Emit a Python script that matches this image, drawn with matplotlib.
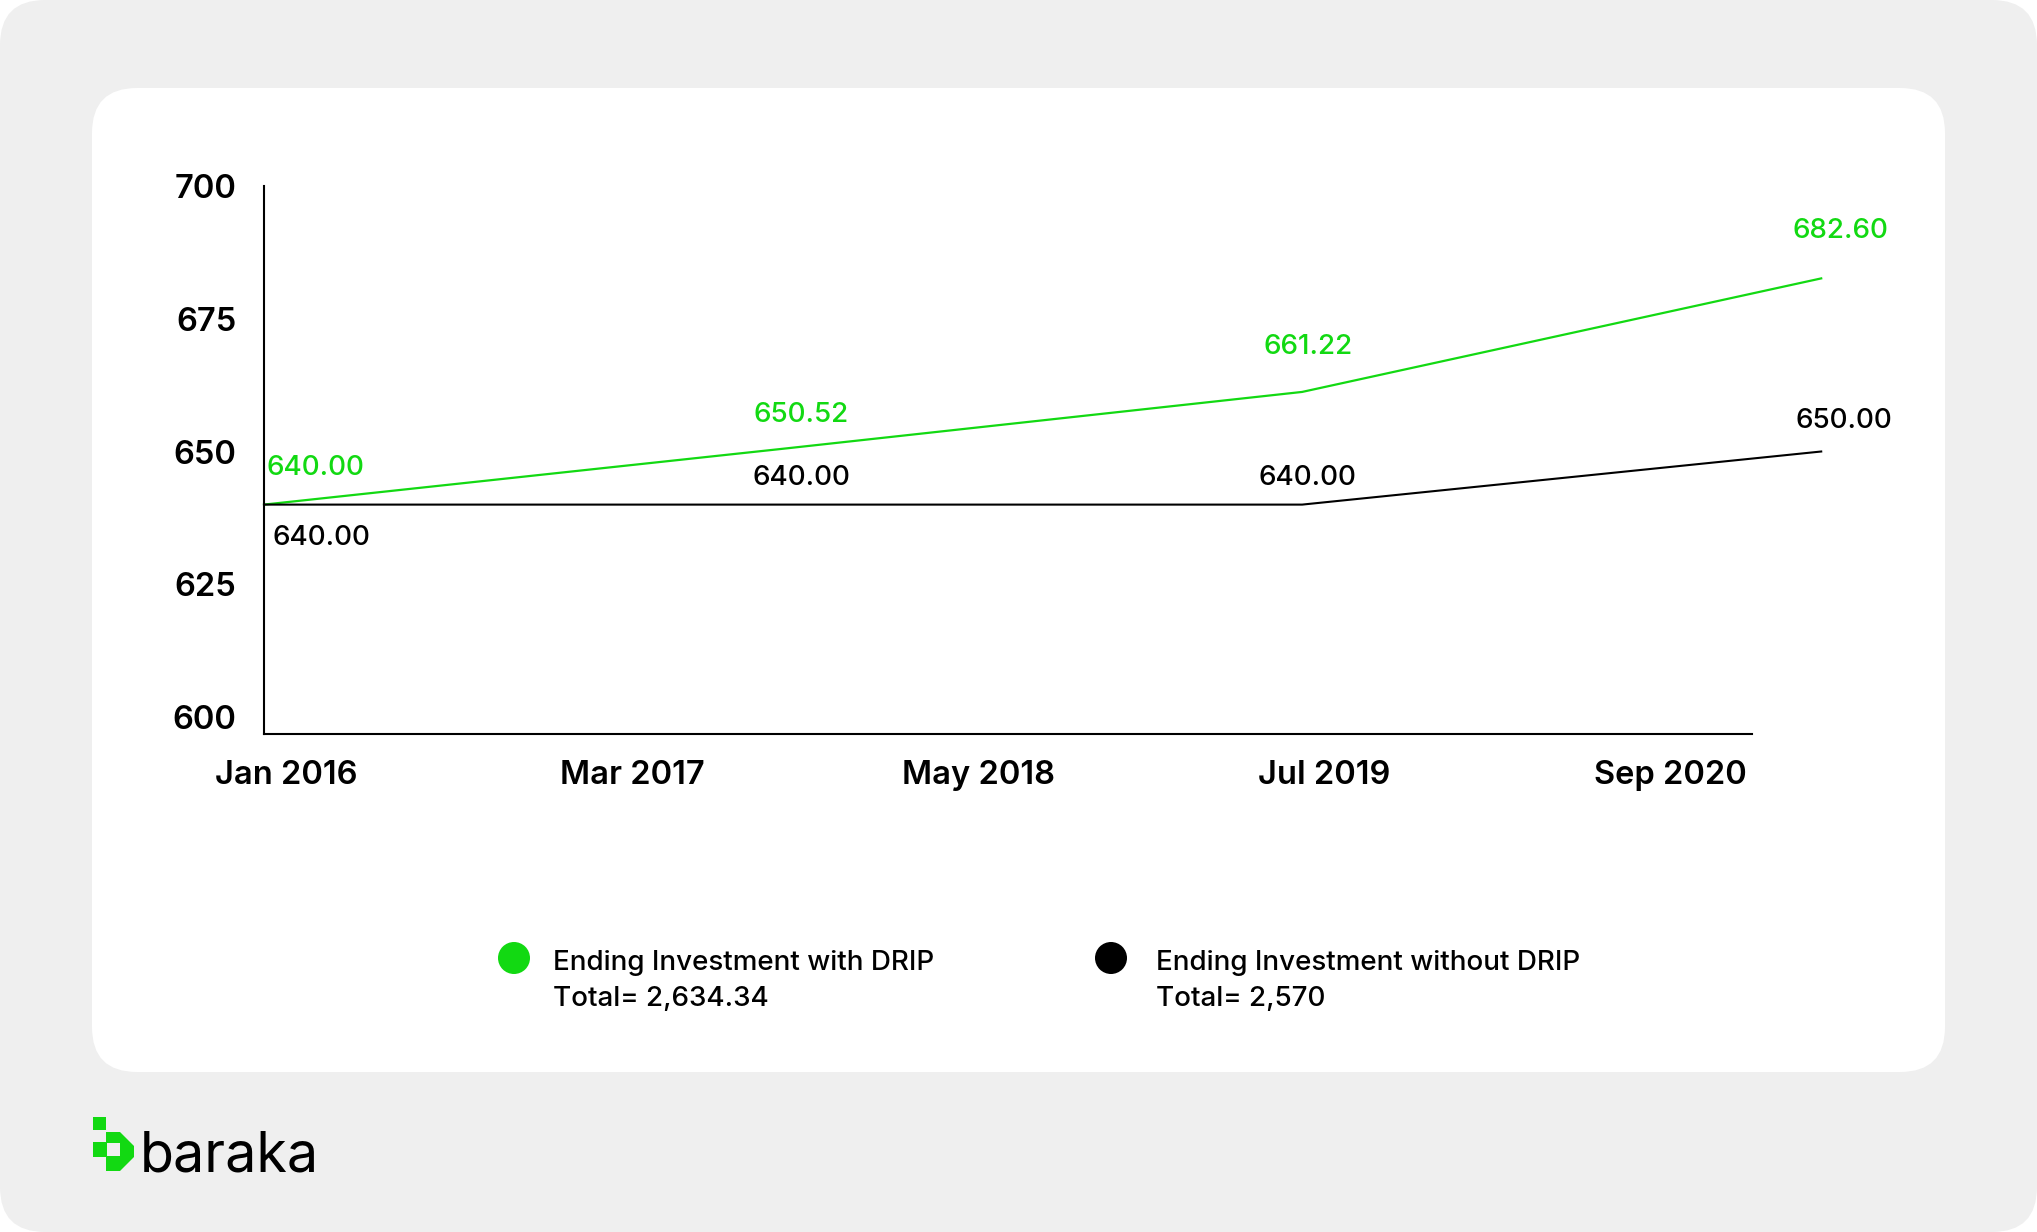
import matplotlib.pyplot as plt
import matplotlib.patches as mpatches
import matplotlib.transforms as mtransforms

plt.rcParams['font.family'] = ['Inter', 'DejaVu Sans']

GREEN = '#12d912'
BG_GRAY = '#efefef'

# data: months since Jan 2016
point_months = [0, 21, 42, 63]
with_drip = [640.00, 650.52, 661.22, 682.60]
without_drip = [640.00, 640.00, 640.00, 650.00]
tick_months = [0, 14, 28, 42, 56]
tick_labels = ['Jan 2016', 'Mar 2017', 'May 2018', 'Jul 2019', 'Sep 2020']
y_ticks = [600, 625, 650, 675, 700]
legend_names = ['Ending Investment with DRIP', 'Ending Investment without DRIP']
legend_totals = ['Total= 2,634.34', 'Total= 2,570']

# label offsets (points) relative to each data point
green_offsets = [(37, 26), (13, 24), (4, 32), (14, 34)]
black_offsets = [(41, -24), (13, 19), (4, 19), (16, 22)]

W, H = 2037, 1232
fig = plt.figure(figsize=(W / 100, H / 100), dpi=100)
fig.patch.set_facecolor('white')

# background layer in pixel coords
bg = fig.add_axes([0, 0, 1, 1], zorder=0)
bg.set_xlim(0, W)
bg.set_ylim(H, 0)
bg.axis('off')
bg.add_patch(mpatches.FancyBboxPatch((45, 45), W - 90, H - 90,
                                     boxstyle='round,pad=45', fc=BG_GRAY, ec='none'))
bg.add_patch(mpatches.FancyBboxPatch((137, 133), 1763, 894,
                                     boxstyle='round,pad=45', fc='white', ec='none'))

# legend
for cx, tx, col, name, total in [(514, 553, GREEN, legend_names[0], legend_totals[0]),
                                 (1111, 1156, 'black', legend_names[1], legend_totals[1])]:
    bg.add_patch(mpatches.Circle((cx, 958), 16, fc=col, ec='none'))
    bg.text(tx, 970, name, fontsize=20, fontweight='medium', va='baseline', ha='left')
    bg.text(tx, 1006, total, fontsize=20, fontweight='medium', va='baseline', ha='left')

# logo
bg.add_patch(mpatches.Rectangle((93, 1117), 13, 13, fc=GREEN, ec='none'))
logo = [(106, 1132), (120, 1132), (134, 1146), (134, 1157), (120, 1171), (106, 1171),
        (106, 1157), (93, 1157), (93, 1142), (106, 1142)]
bg.add_patch(mpatches.Polygon(logo, closed=True, fc=GREEN, ec='none'))
bg.add_patch(mpatches.Rectangle((106.5, 1143), 13, 13, fc=BG_GRAY, ec='none'))
bg.text(140, 1172, 'baraka', fontsize=40, va='baseline', ha='left', color='black')

# chart
ax = fig.add_axes([264 / W, 1 - 734 / H, (1752 - 264) / W, (734 - 186) / H], zorder=1)
ax.patch.set_alpha(0)
ax.plot(point_months, with_drip, color=GREEN, lw=1.6, clip_on=False)
ax.plot(point_months, without_drip, color='black', lw=1.5, clip_on=False)

for x, y, off in zip(point_months, with_drip, green_offsets):
    ax.annotate(f'{y:.2f}', (x, y), xytext=off, textcoords='offset points',
                ha='center', va='center', color=GREEN, fontsize=20, fontweight='medium',
                annotation_clip=False)
for x, y, off in zip(point_months, without_drip, black_offsets):
    ax.annotate(f'{y:.2f}', (x, y), xytext=off, textcoords='offset points',
                ha='center', va='center', color='black', fontsize=20, fontweight='medium',
                annotation_clip=False)

ax.set_xlim(0, 60.2)
ax.set_ylim(596.8, 700)
ax.set_xticks(tick_months)
ax.set_xticklabels(tick_labels, fontsize=23.5, fontweight='semibold')
ax.set_yticks(y_ticks)
ax.set_yticklabels([str(v) for v in y_ticks], fontsize=23.5, fontweight='semibold')
ax.tick_params(axis='both', length=0)
ax.tick_params(axis='x', pad=19)
ax.tick_params(axis='y', pad=20)

shift = mtransforms.ScaledTranslation(0.22, 0, fig.dpi_scale_trans)
for lbl in ax.get_xticklabels():
    lbl.set_transform(lbl.get_transform() + shift)

for s in ['top', 'right']:
    ax.spines[s].set_visible(False)
for s in ['left', 'bottom']:
    ax.spines[s].set_linewidth(1.5)

fig.savefig('out.png', dpi=100, facecolor=fig.get_facecolor())
